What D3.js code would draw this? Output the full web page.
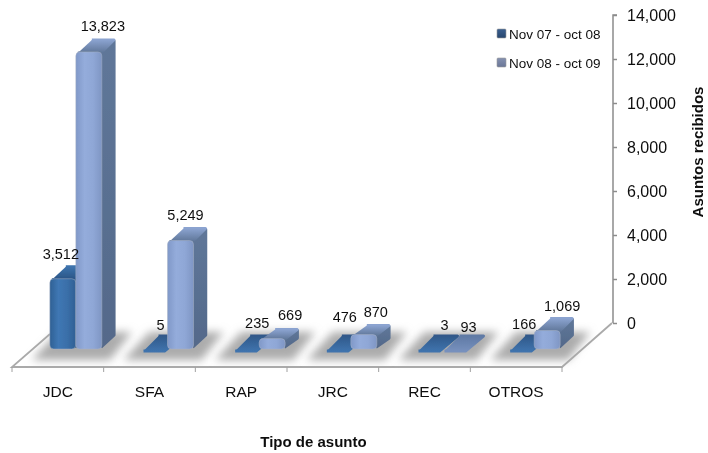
<!DOCTYPE html>
<html><head><meta charset="utf-8">
<script src="https://cdn.jsdelivr.net/npm/d3@7"></script>
<style>html,body{margin:0;background:#fff}svg{display:block}text{font-family:"Liberation Sans",Arial,sans-serif;fill:#111}</style>
</head><body><div id="c"></div>
<script>
const categories=["JDC","SFA","RAP","JRC","REC","OTROS"];
const seriesNames=["Nov 07 - oct 08","Nov 08 - oct 09"];
const series1=[3512,5,235,476,3,166];
const series2=[13823,5249,669,870,93,1069];
const yTicks=[0,2000,4000,6000,8000,10000,12000,14000];
const W=708,H=453;
const svg=d3.select("#c").append("svg").attr("width",W).attr("height",H);
const defs=svg.append("defs");
defs.append("filter").attr("id","blur").attr("x","-30%").attr("y","-60%").attr("width","160%").attr("height","220%")
  .append("feGaussianBlur").attr("stdDeviation",4);
defs.append("filter").attr("id","soft").attr("x","-20%").attr("y","-20%").attr("width","140%").attr("height","140%").append("feGaussianBlur").attr("stdDeviation",0.5);
defs.append("filter").attr("id","txt").attr("x","-10%").attr("y","-10%").attr("width","120%").attr("height","120%").append("feGaussianBlur").attr("stdDeviation",0.3);
function grad(id,stops,horizontal){
  const g=defs.append("linearGradient").attr("id",id).attr("x1",0).attr("y1",0).attr("x2",horizontal?1:0).attr("y2",horizontal?0:1);
  stops.forEach((c,i)=>g.append("stop").attr("offset",i/(stops.length-1)).attr("stop-color",c));
}
grad("d-front",["#2f6094","#3f77b4","#3a6fa9","#2f6094"],true);
grad("l-front",["#8098c8","#94acdb","#8fa7d6","#7f96c4"],true);
grad("d-cap",["#3d73ad","#2a5484"]);
grad("l-cap",["#8ba3d0","#5f7698"]);
grad("d-side",["#2c5686","#24476f"]);
grad("l-side",["#5f7799","#54698a"]);
grad("d-flat",["#30598a","#3f73ad"]);
grad("l-flat",["#5f7aa5","#7790bd"]);
grad("lg1",["#3a5f8f","#28466e"]);
grad("lg2",["#8591b0","#6a7697"]);

const x=d3.scaleBand().domain(categories).range([12,562]);
const y=d3.scaleLinear().domain([0,14000]).range([323,15]);
const barW=26,baseY=349,flatY=352;
// front-face height follows the axis scale, with the picture's perspective near the floor
const barY=d3.scaleLinear().domain([0,500,1000,3500,14000]).range([352,342,332,279,48]);

const gAxis=svg.append("g").attr("transform","translate(613,0)")
  .call(d3.axisRight(y).tickValues(yTicks).tickFormat(d3.format(",")).tickSize(4).tickPadding(10));
gAxis.selectAll("path,line").attr("stroke","#8c8c8c").attr("stroke-width",1.5);
gAxis.selectAll("text").attr("font-size",16).attr("fill","#111").attr("filter","url(#txt)");
gAxis.select(".domain").attr("d","M4,15H0V323");

svg.append("path").attr("d",d3.line()([[50,334],[12,367],[562,367],[612,323]]))
  .attr("fill","none").attr("stroke","#aaaaaa").attr("stroke-width",1.8);
svg.append("g").selectAll("line").data(d3.range(7)).join("line")
  .attr("x1",i=>12+i*x.bandwidth()).attr("x2",i=>12+i*x.bandwidth()).attr("y1",367).attr("y2",372)
  .attr("stroke","#a0a0a0").attr("stroke-width",1);

const groups=svg.append("g").selectAll("g").data(categories).join("g")
  .attr("transform",d=>`translate(${x(d)+x.bandwidth()/2+18},0)`);
groups.append("path")
  .attr("d",d3.line()([[-44,360],[34,360],[56,332],[-18,332]])).attr("fill","#acacac").attr("filter","url(#blur)");

function bar(g,v,x0,key){
  const t=barY(v),h=baseY-t;
  const s=g.append("g").attr("filter","url(#soft)");
  if(h<=8){
    s.append("path").attr("d",d3.line()([[x0+2,flatY-1],[x0+barW-3,flatY-1],[x0+barW+15,flatY-16],[x0+17,flatY-16]]))
      .attr("fill",`url(#${key}-flat)`).attr("stroke",`url(#${key}-flat)`).attr("stroke-width",3).attr("stroke-linejoin","round");
    return;
  }
  const r=x0+barW-1, dx=14, dy=h<15?11:14;
  s.append("path").attr("d",d3.line()([[r,t+1],[r+dx-1,t-dy+3],[r+dx-1,baseY-dy],[r,baseY-2]]))
    .attr("fill",`url(#${key}-side)`).attr("stroke",`url(#${key}-side)`).attr("stroke-width",3.5).attr("stroke-linejoin","round");
  s.append("path").attr("d",d3.line()([[x0+2,t+1],[r,t+1],[r+dx-1,t-dy+2],[x0+dx+2,t-dy+2]]))
    .attr("fill",`url(#${key}-cap)`).attr("stroke",`url(#${key}-cap)`).attr("stroke-width",3).attr("stroke-linejoin","round");
  s.append("rect").attr("x",x0).attr("y",t).attr("width",barW).attr("height",h).attr("rx",Math.min(4,h/2))
    .attr("fill",`url(#${key}-front)`).attr("stroke","#a9b3c4").attr("stroke-width",0.5);
}
groups.each(function(d,i){
  const g=d3.select(this);
  bar(g,series1[i],-barW,"d");
  bar(g,series2[i],0,"l");
});

const nudge1=[-2,6,11,7,15,3],nudge2=[14,5,18,12,13,15];
const nudgeY1=[0,1,1,0,1,0],nudgeY2=[-1,-1,1,2,3,0];
const fmt=d3.format(",");
groups.each(function(d,i){
  const g=d3.select(this);
  [[series1[i],-barW/2+nudge1[i],nudgeY1[i]],[series2[i],barW/2+nudge2[i],nudgeY2[i]]].forEach(([v,lx,ny])=>{
    const t=Math.min(barY(v),baseY);
    g.append("text").attr("x",lx).attr("y",t-20+ny).attr("text-anchor","middle").attr("font-size",14.5).attr("filter","url(#txt)").text(fmt(v));
  });
});

svg.append("g").selectAll("text").data(categories).join("text")
  .attr("x",d=>x(d)+x.bandwidth()/2).attr("y",397).attr("text-anchor","middle").attr("font-size",15.5).attr("filter","url(#txt)").text(d=>d);

const lg=svg.append("g").selectAll("g").data(seriesNames).join("g")
  .attr("transform",(d,i)=>`translate(497,${35+i*29})`);
lg.append("rect").attr("x",0).attr("y",-6).attr("width",9).attr("height",9).attr("rx",1).attr("fill",(d,i)=>`url(#lg${i+1})`).attr("stroke","#9a9a9a").attr("stroke-width",.6);
lg.append("text").attr("x",12).attr("y",4).attr("font-size",13.5).attr("filter","url(#txt)").text(d=>d);

svg.append("text").attr("x",313.5).attr("y",447).attr("text-anchor","middle").attr("font-size",15).attr("font-weight","bold").attr("filter","url(#txt)").text("Tipo de asunto");
svg.append("text").attr("transform","translate(703,152) rotate(-90)").attr("text-anchor","middle").attr("font-size",15).attr("font-weight","bold").attr("filter","url(#txt)").text("Asuntos recibidos");
</script></body></html>
